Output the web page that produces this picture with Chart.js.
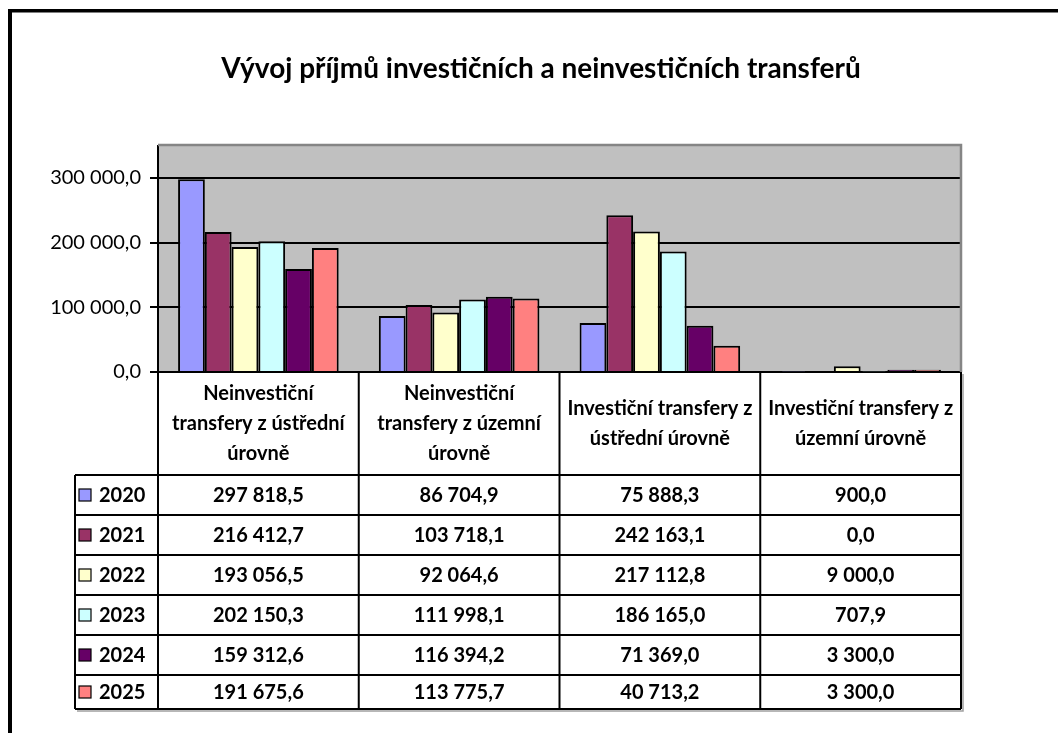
<!DOCTYPE html>
<html><head><meta charset="utf-8">
<script src="https://cdn.jsdelivr.net/npm/chart.js@4.4.1/dist/chart.umd.min.js"></script>
<style>html,body{margin:0;padding:0;background:#fff;overflow:hidden}#wrap{width:1058px;height:733px;position:relative}</style>
</head><body><div id="wrap"><canvas id="c" width="1058" height="733"></canvas></div>
<script>
const chartTitle = 'Vývoj příjmů investičních a neinvestičních transferů';
const categories = [
  ['Neinvestiční', 'transfery z ústřední', 'úrovně'],
  ['Neinvestiční', 'transfery z územní', 'úrovně'],
  ['Investiční transfery z', 'ústřední úrovně'],
  ['Investiční transfery z', 'územní úrovně']
];
const years = ['2020', '2021', '2022', '2023', '2024', '2025'];
const v2020 = [297818.5, 86704.9, 75888.3, 900.0];
const v2021 = [216412.7, 103718.1, 242163.1, 0.0];
const v2022 = [193056.5, 92064.6, 217112.8, 9000.0];
const v2023 = [202150.3, 111998.1, 186165.0, 707.9];
const v2024 = [159312.6, 116394.2, 71369.0, 3300.0];
const v2025 = [191675.6, 113775.7, 40713.2, 3300.0];
const yTicks = [0, 100000, 200000, 300000];
const yMax = 350000;
const colors = ['#9999FF', '#993366', '#FFFFCC', '#CCFFFF', '#660066', '#FF8080'];
const series = [v2020, v2021, v2022, v2023, v2024, v2025];

function fmt(v) {
  const s = Number(v).toFixed(1);
  let [i, d] = s.split('.');
  i = i.replace(/\B(?=(\d{3})+(?!\d))/g, ' ');
  return i + ',' + d;
}

const FONT = 'Lato';
const TABLE_FONT = 'bold 20px ' + FONT;

const decor = {
  id: 'decor',
  beforeDraw(chart) {
    const c = chart.ctx, ca = chart.chartArea;
    c.save();
    c.fillStyle = '#fff';
    c.fillRect(0, 0, chart.width, chart.height);
    c.fillStyle = '#000';
    c.fillRect(8, 9, 4, chart.height);
    c.fillRect(8, 9, chart.width, 3.5);
    c.fillStyle = '#C0C0C0';
    c.fillRect(ca.left, ca.top, ca.right - ca.left, ca.bottom - ca.top);
    c.restore();
  },
  afterDraw(chart) {
    const c = chart.ctx, ca = chart.chartArea, xs = chart.scales.x;
    c.save();
    c.strokeStyle = '#858585';
    c.lineWidth = 2.5;
    c.beginPath();
    c.moveTo(ca.left, ca.top - 0.5);
    c.lineTo(ca.right, ca.top - 0.5);
    c.lineTo(ca.right, ca.bottom);
    c.stroke();

    const n = categories.length;
    const colW = (ca.right - ca.left) / n;
    const bounds = [];
    for (let i = 0; i <= n; i++) bounds.push(i < n ? xs.getPixelForValue(i) - colW / 2 : xs.getPixelForValue(n - 1) + colW / 2);
    const headTop = ca.bottom;
    const headBottom = ca.bottom + 103;
    const tableBottom = chart.height - 24;
    const rowH = 40;
    const legLeft = 75;
    const rowTops = years.map((_, i) => headBottom + rowH * i);

    c.strokeStyle = '#a0a0a0';
    c.lineWidth = 1.5;
    c.beginPath();
    c.moveTo(legLeft + 2, tableBottom + 2);
    c.lineTo(bounds[n] + 2, tableBottom + 2);
    c.lineTo(bounds[n] + 2, headTop + 2);
    c.stroke();

    c.strokeStyle = '#000';
    c.lineWidth = 2;
    c.beginPath();
    bounds.forEach(x => { c.moveTo(x, headTop); c.lineTo(x, tableBottom); });
    c.moveTo(legLeft, headBottom); c.lineTo(legLeft, tableBottom);
    rowTops.forEach(y => { c.moveTo(legLeft, y); c.lineTo(bounds[n], y); });
    c.moveTo(legLeft, tableBottom); c.lineTo(bounds[n], tableBottom);
    c.stroke();

    c.fillStyle = '#000';
    c.font = TABLE_FONT;
    c.textAlign = 'center';
    c.textBaseline = 'middle';
    const lh = 30;
    categories.forEach((lines, i) => {
      const cx = (bounds[i] + bounds[i + 1]) / 2;
      const cy = (headTop + headBottom) / 2;
      lines.forEach((t, k) => {
        c.fillText(t, cx, cy + (k - (lines.length - 1) / 2) * lh);
      });
    });
    years.forEach((y, r) => {
      const top = rowTops[r];
      const bot = r < years.length - 1 ? rowTops[r + 1] : tableBottom;
      const cy = (top + bot) / 2;
      series[r].forEach((v, i) => {
        c.textAlign = 'center';
        c.fillText(fmt(v), (bounds[i] + bounds[i + 1]) / 2, cy + 1);
      });
      c.fillStyle = colors[r];
      c.fillRect(79, cy - 6, 12, 12);
      c.strokeStyle = '#000';
      c.lineWidth = 1.2;
      c.strokeRect(79, cy - 6, 12, 12);
      c.fillStyle = '#000';
      c.textAlign = 'left';
      c.fillText(y, 99, cy + 1);
    });
    c.restore();
  }
};

new Chart(document.getElementById('c'), {
  type: 'bar',
  data: {
    labels: categories.map(c => c.join(' ')),
    datasets: years.map((y, i) => ({
      label: y,
      data: series[i],
      backgroundColor: colors[i],
      borderColor: '#000',
      borderWidth: 2,
      categoryPercentage: 0.8,
      barPercentage: 1.0,
      yAxisID: 'y'
    }))
  },
  options: {
    responsive: false,
    animation: false,
    devicePixelRatio: 1,
    layout: { padding: { left: 24, right: 0, top: 12, bottom: 24 } },
    plugins: {
      legend: { display: false },
      tooltip: { enabled: false },
      title: {
        display: true,
        text: chartTitle,
        color: '#000',
        font: { family: FONT, size: 28, weight: 'bold', lineHeight: 1.2 },
        padding: { top: 40, bottom: 60 }
      }
    },
    scales: {
      x: {
        ticks: { display: false },
        grid: { display: false },
        border: { display: true, color: '#000', width: 2 },
        afterFit: s => { s.height = 337; }
      },
      y: {
        min: 0,
        max: yMax,
        afterBuildTicks: s => { s.ticks = yTicks.map(v => ({ value: v })); },
        ticks: { callback: v => fmt(v), color: '#000', font: { family: FONT, size: 20 }, padding: 9 },
        grid: { color: '#000', lineWidth: 2, tickLength: 8 },
        border: { color: '#000', width: 2 },
        afterFit: s => { s.width = 134; }
      },
      spacer: {
        type: 'linear',
        position: 'right',
        display: true,
        ticks: { display: false },
        grid: { display: false, drawTicks: false },
        border: { display: false },
        afterFit: s => { s.width = 97; }
      }
    }
  },
  plugins: [decor]
});
</script>
</body></html>
